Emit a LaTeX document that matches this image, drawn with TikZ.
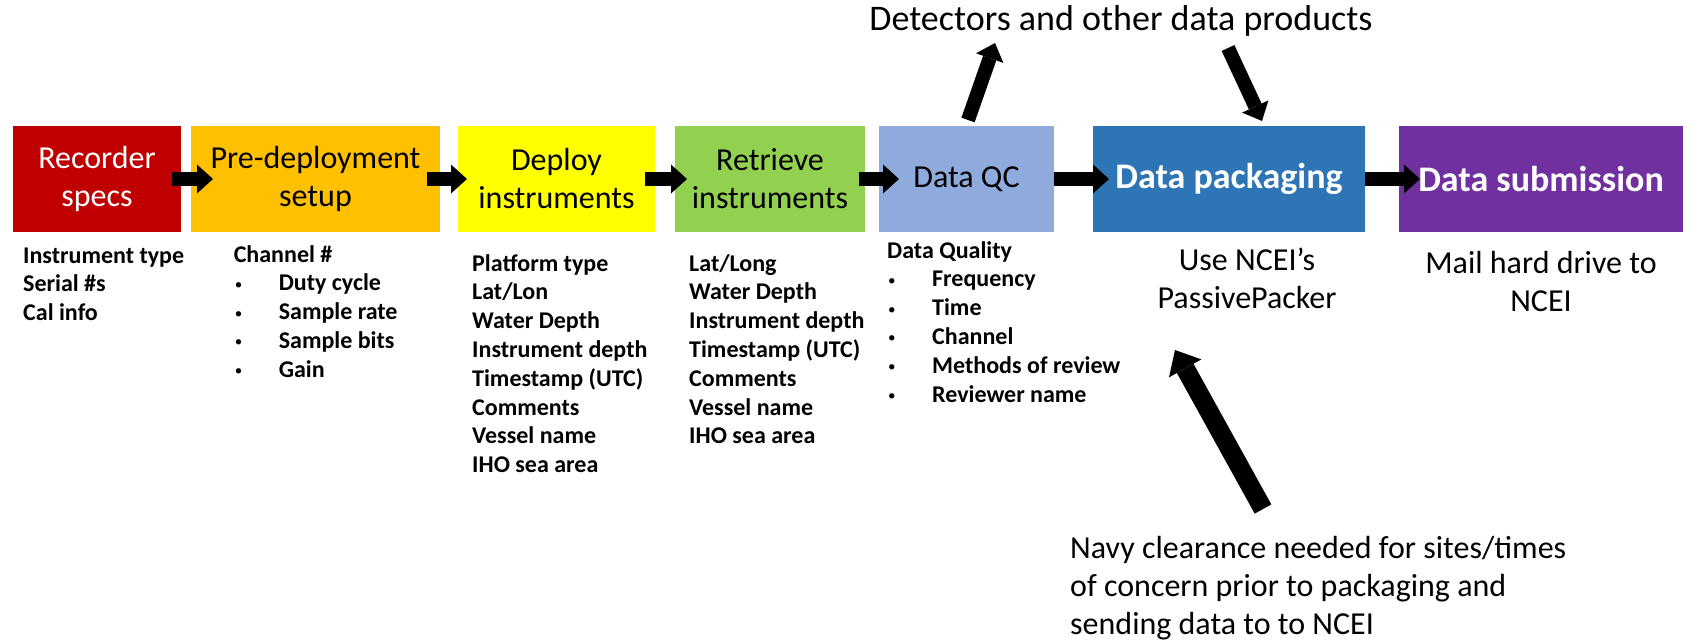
\documentclass[tikz,border=0pt]{standalone}
\usepackage{fontspec}
\setmainfont{Carlito}
\usetikzlibrary{arrows.meta}
\definecolor{cRed}{HTML}{C00000}
\definecolor{cOrange}{HTML}{FFC000}
\definecolor{cYellow}{HTML}{FFFF00}
\definecolor{cGreen}{HTML}{92D050}
\definecolor{cLblue}{HTML}{8FAADC}
\definecolor{cBlue}{HTML}{2E75B6}
\definecolor{cPurple}{HTML}{7030A0}
\newcommand{\blt}{\makebox[45pt][l]{\hspace{1pt}\raisebox{1.5pt}{\fontsize{15}{15}\selectfont\mdseries •}}}
\begin{document}
\begin{tikzpicture}[x=1pt,y=-1pt,
  stage/.style={minimum height=106pt, inner sep=0pt, outer sep=0pt, align=center,
    font=\fontsize{32}{38}\selectfont},
  boldstage/.style={stage, font=\fontsize{36}{42}\selectfont\bfseries},
  lst/.style={inner sep=0pt, anchor=base west, font=\fontsize{24}{28.8}\selectfont\bfseries},
  note/.style={inner sep=0pt, font=\fontsize{32}{38}\selectfont},
  blk/.style={line width=14pt, -{Triangle[width=29pt,length=16pt,line width=0pt]}},
  bigblk/.style={line width=19pt, -{Triangle[width=37pt,length=21pt,line width=0pt]}}]
\useasboundingbox (0,0) rectangle (1691,642);

% stages
\node[stage, fill=cRed, text=white, minimum width=168pt] (rec) at (97,179) {Recorder\\specs};
\node[stage, fill=cOrange, minimum width=249pt] (pre) at (315.5,179) {Pre-deployment\\setup};
\node[stage, fill=cYellow, minimum width=197pt] (dep) at (556.5,179) {Deploy\\instruments};
\node[stage, fill=cGreen, minimum width=190pt] (ret) at (770,179) {Retrieve\\instruments};
\node[stage, fill=cLblue, minimum width=175pt] (qc) at (966.5,179) {Data QC};
\node[boldstage, fill=cBlue, text=white, minimum width=272pt] (pack) at (1229,179) {Data packaging};
\node[boldstage, fill=cPurple, text=white, minimum width=284pt] (sub) at (1541,179) {Data submission};

% arrows between stages
\draw[blk] ([xshift=-9]rec.east) -- ([xshift=22]pre.west);
\draw[blk] ([xshift=-13]pre.east) -- ([xshift=9]dep.west);
\draw[blk] ([xshift=-10]dep.east) -- ([xshift=12]ret.west);
\draw[blk] ([xshift=-6]ret.east) -- ([xshift=20]qc.west);
\draw[blk] (qc.east) -- ([xshift=16]pack.west);
\draw[blk] (pack.east) -- ([xshift=21]sub.west);

% lists
\node[lst] (recL) at (23,263) {\begin{tabular}[t]{@{}l@{}}Instrument type\\Serial \#s\\Cal info\end{tabular}};
\node[lst] (preL) at (233.6,262) {\begin{tabular}[t]{@{}l@{}}Channel \#\\\blt Duty cycle\\\blt Sample rate\\\blt Sample bits\\\blt Gain\end{tabular}};
\node[lst] (depL) at (472,271) {\begin{tabular}[t]{@{}l@{}}Platform type\\Lat/Lon\\Water Depth\\Instrument depth\\Timestamp (UTC)\\Comments\\Vessel name\\IHO sea area\end{tabular}};
\node[lst] (retL) at (689,271) {\begin{tabular}[t]{@{}l@{}}Lat/Long\\Water Depth\\Instrument depth\\Timestamp (UTC)\\Comments\\Vessel name\\IHO sea area\end{tabular}};
\node[lst] (qcL) at (887,258) {\begin{tabular}[t]{@{}l@{}}Data Quality\\\blt Frequency\\\blt Time\\\blt Channel\\\blt Methods of review\\\blt Reviewer name\end{tabular}};

% notes
\node[note, anchor=base, font=\fontsize{36}{42}\selectfont] (det) at (1121,31) {Detectors and other data products};
\node[note, anchor=base] (use) at (1247,270) {\begin{tabular}[t]{@{}c@{}}Use NCEI’s\\PassivePacker\end{tabular}};
\node[note, anchor=base] (mail) at (1541,273) {\begin{tabular}[t]{@{}c@{}}Mail hard drive to\\NCEI\end{tabular}};
\node[note, anchor=base west] (navy) at (1070,558) {\begin{tabular}[t]{@{}l@{}}Navy clearance needed for sites/times\\of concern prior to packaging and\\sending data to to NCEI\end{tabular}};

% diagonal arrows
\coordinate (upTip) at (995,43);
\coordinate (dnTail) at (1228,48);
\coordinate (navyTail) at (1263,509);
\draw[blk] ([shift={(1.5,-6)}]qc.north) -- (upTip);
\draw[blk] (dnTail) -- ([shift={(33,-5)}]pack.north);
\draw[bigblk] (navyTail) -- ([shift={(-54,118)}]pack.south);
\end{tikzpicture}
\end{document}
